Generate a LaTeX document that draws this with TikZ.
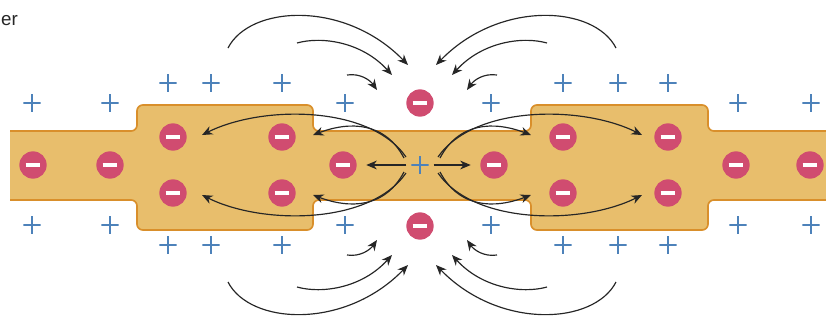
\documentclass[tikz,border=0pt]{standalone}
\usepackage{fontspec}
\usetikzlibrary{arrows.meta}

\newfontfamily\labelfont{Liberation Sans}

\definecolor{stripfill}{HTML}{E8BE6C}
\definecolor{stripedge}{HTML}{D98F2B}
\definecolor{ionred}{HTML}{D04C70}
\definecolor{ionblue}{HTML}{4D82BA}

\tikzset{
  anion/.style={circle, fill=ionred, minimum size=0.82cm, inner sep=0pt,
    path picture={\draw[white, line width=3.2pt]
      ([xshift=-0.22cm]path picture bounding box.center) --
      ([xshift=0.22cm]path picture bounding box.center);}},
  cation/.style={minimum size=0.52cm, inner sep=0pt,
    path picture={\draw[ionblue, line width=2.4pt]
      (path picture bounding box.west) -- (path picture bounding box.east)
      (path picture bounding box.north) -- (path picture bounding box.south);}},
  field/.style={draw=black!85, line width=1pt,
    -{Stealth[length=9pt,width=7.5pt]}},
}

% one quarter of the field lines, mirrored into the other three
\newcommand{\fringelines}{%
  \coordinate (o1) at (228,48);  \coordinate (t1) at (408,65);
  \coordinate (o2) at (297,43);  \coordinate (t2) at (392,75);
  \coordinate (o3) at (347,75);  \coordinate (t3) at (377,90);
  \draw[field] (o1) .. controls (250,5) and (345,0) .. (t1);
  \draw[field] (o2) .. controls (322,36) and (362,42) .. (t2);
  \draw[field] (o3) .. controls (360,73) and (370,80) .. (t3);
  \coordinate (i1) at (404,158); \coordinate (j1) at (313,135);
  \coordinate (i2) at (406,157); \coordinate (j2) at (202,135);
  \draw[field] (i1) .. controls (385,122) and (350,121) .. (j1);
  \draw[field] (i2) .. controls (370,105) and (262,105) .. (j2);
}

\begin{document}
\begin{tikzpicture}[x=0.03cm, y=-0.03cm]
  \useasboundingbox (0,0) rectangle (826,325);

  % the wire with its two wide parts
  \path[fill=stripfill, draw=stripedge, line width=1.4pt, rounded corners=5pt]
    (10,200) -- (137,200) -- (137,230) -- (313,230) -- (313,200)
    -- (531,200) -- (531,230) -- (708,230) -- (708,200) -- (860,200)
    -- (860,131) -- (708,131) -- (708,105) -- (531,105) -- (531,131)
    -- (313,131) -- (313,105) -- (137,105) -- (137,131) -- (10,131);

  \node[anchor=west, inner sep=0pt, text=black!85,
        font=\labelfont\fontsize{16}{18}\selectfont]
    (lbl) at (1,21) {er};

  % negative ions
  \foreach \name/\x/\y in {s1/33/165, s2/110/165, s3/343/165, s4/494/165,
      s5/736/165, s6/810/165, a1/173/137, a2/282/137, a3/173/193, a4/282/193,
      b1/563/137, b2/668/137, b3/563/193, b4/668/193, up/420/103, dn/420/226}
    \node[anion] (\name) at (\x,\y) {};

  % positive ions
  \foreach \x [count=\i] in {32,110,345,491,738,811} {
    \node[cation] (pt\i) at (\x,103) {};
    \node[cation] (pb\i) at (\x,225) {};
  }
  \foreach \x [count=\i] in {168,211,282,563,618,668} {
    \node[cation] (qt\i) at (\x,83) {};
    \node[cation] (qb\i) at (\x,245) {};
  }
  \node[cation] (c) at (420,165) {};

  % field lines
  \draw[field, shorten <=4pt, shorten >=8pt] (c) -- (s3);
  \draw[field, shorten <=4pt, shorten >=8pt] (c) -- (s4);

  \fringelines
  \begin{scope}[shift={(844,0)}, xscale=-1]
    \fringelines
  \end{scope}
  \begin{scope}[shift={(0,330)}, yscale=-1]
    \fringelines
  \end{scope}
  \begin{scope}[shift={(844,330)}, scale=-1]
    \fringelines
  \end{scope}
\end{tikzpicture}
\end{document}
